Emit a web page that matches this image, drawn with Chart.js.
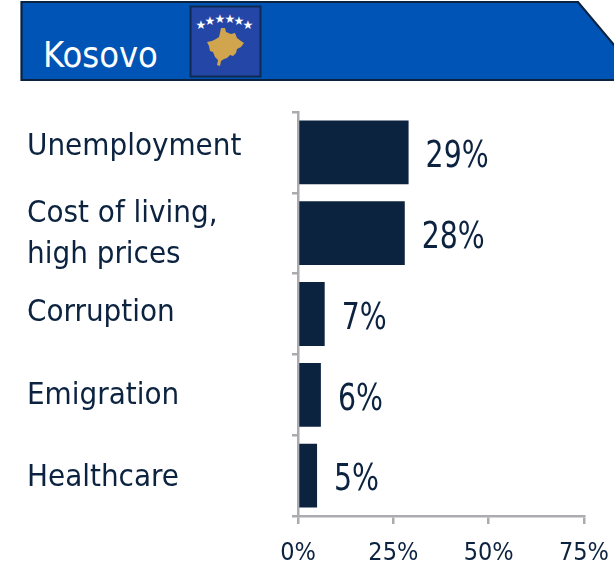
<!DOCTYPE html>
<html><head><meta charset="utf-8">
<style>
html,body{margin:0;padding:0;background:#fff;width:614px;height:564px;overflow:hidden}
#wrap{position:relative;width:614px;height:564px}
#hdr{position:absolute;left:0;top:0}
#title{position:absolute;left:43px;top:33px;color:#fff;font:36px/44px "DejaVu Sans Condensed",sans-serif;font-stretch:condensed}
canvas{position:absolute;left:0;top:0}
</style>
<script src="https://cdn.jsdelivr.net/npm/chart.js@4"></script>
</head><body><div id="wrap">
<svg id="hdr" width="614" height="564">
<polygon points="21.5,2 578,2 620,52 620,80 21.5,80" fill="#0054B5" stroke="#0B2340" stroke-width="2.2"/>
<rect x="190.5" y="6.5" width="70" height="70" fill="#2446A6" stroke="#0F2A52" stroke-width="2"/>
<g fill="#fff" font-size="12" text-anchor="middle" font-family="DejaVu Sans">
<text x="201" y="29">★</text><text x="210" y="25">★</text><text x="220" y="23">★</text><text x="230" y="23">★</text><text x="239" y="25">★</text><text x="248" y="29">★</text></g>
<polygon fill="#D0A54E" points="221,28 225,28 226,32 231,34 235,33 237,38 241,41 244,43 241,47 237,49 236,53 233,56 230,55 227,58 224,59 221,61 220,66 217,65 218,60 215,57 213,52 210,51 209,46 207,42 212,41 216,39 219,37 220,33"/>
</svg>
<div id="title">Kosovo</div>
<canvas id="c" width="614" height="564"></canvas>
</div>
<script>
const titleText = "Kosovo";
const categories = ["Unemployment", ["Cost of living,", "high prices"], "Corruption", "Emigration", "Healthcare"];
const values = [29, 28, 7, 6, 5];
const xTicks = [0, 25, 50, 75];
const labelNudge = [-5, 1, -1, 1, 2];
const ink = "#0C2340", axis = "#ABABB0";
const face = '"DejaVu Sans Condensed"';

const valueLabels = {
  id: "valueLabels",
  afterDatasetsDraw(chart) {
    const ctx = chart.ctx, meta = chart.getDatasetMeta(0);
    ctx.save();
    ctx.fillStyle = ink;
    ctx.font = "38px " + face + ", sans-serif";
    ctx.textBaseline = "middle";
    meta.data.forEach((bar, i) => {
      ctx.save();
      ctx.translate(bar.x + 17, bar.y + 5);
      ctx.scale(0.83, 1);
      ctx.fillText(values[i] + "%", 0, 0);
      ctx.restore();
    });
    ctx.restore();
  }
};
const nudgeLabels = {
  id: "nudgeLabels",
  beforeDraw(chart) {
    chart.scales.y.getLabelItems().forEach((it, i) => {
      if (!it.nudged) { it.options.translation[1] += labelNudge[i]; it.nudged = true; }
    });
  }
};

new Chart(document.getElementById("c"), {
  type: "bar",
  data: { labels: categories, datasets: [{ data: values, backgroundColor: ink, barPercentage: 0.79, categoryPercentage: 1 }] },
  plugins: [valueLabels, nudgeLabels],
  options: {
    indexAxis: "y", responsive: false, animation: false,
    layout: { padding: { left: 27, top: 112, right: 30, bottom: 0 } },
    plugins: { legend: { display: false }, tooltip: { enabled: false } },
    scales: {
      x: {
        type: "linear", min: 0, max: 75,
        afterBuildTicks(s) { s.ticks = xTicks.map(v => ({ value: v })); },
        afterFit(s) { s.height = 48; s.paddingRight = 0; },
        border: { color: axis, width: 2.5 },
        grid: { drawOnChartArea: false, color: axis, lineWidth: 2.5, tickLength: 8 },
        ticks: { color: ink, font: { family: "DejaVu Sans Condensed", size: 25 }, padding: 14, maxRotation: 0, autoSkip: false, callback: v => v + "%" }
      },
      y: {
        afterFit(s) { s.width = 271; },
        border: { color: axis, width: 2.5 },
        grid: { drawOnChartArea: false, color: axis, lineWidth: 2.5, tickLength: 6 },
        ticks: { color: ink, crossAlign: "far", font: { family: "DejaVu Sans Condensed", size: 31, lineHeight: 1.32 }, padding: 8, autoSkip: false }
      }
    }
  }
});
</script></body></html>
